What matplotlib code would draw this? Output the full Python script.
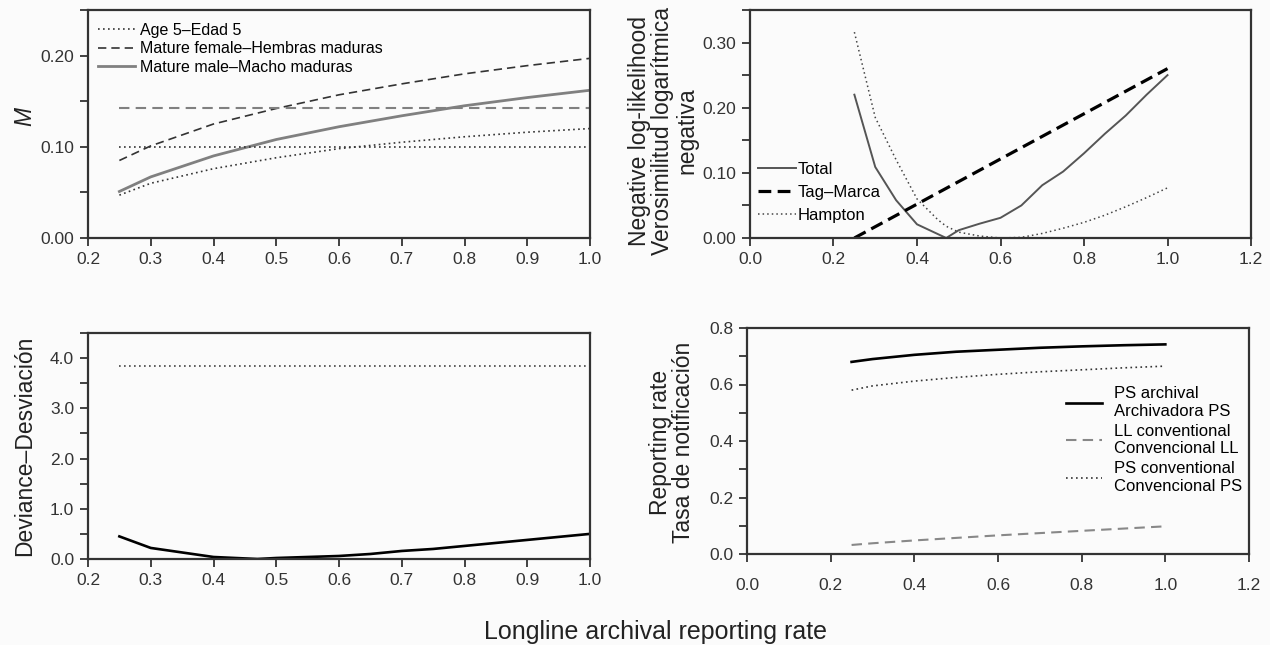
import matplotlib
matplotlib.use("Agg")
import matplotlib.pyplot as plt
from matplotlib.ticker import MultipleLocator, FormatStrFormatter

plt.rcParams['font.family'] = ['Liberation Sans', 'DejaVu Sans']

# --- data ---
x_rate = [0.25, 0.3, 0.4, 0.5, 0.6, 0.7, 0.8, 0.9, 1.0]
m_age5 = [0.047, 0.060, 0.076, 0.088, 0.098, 0.105, 0.111, 0.116, 0.120]
m_female = [0.085, 0.101, 0.125, 0.142, 0.157, 0.169, 0.180, 0.189, 0.197]
m_male = [0.051, 0.067, 0.090, 0.108, 0.122, 0.134, 0.145, 0.154, 0.162]
m_age5_ref = 0.10
m_female_ref = 0.143

x_nll = [0.25, 0.3, 0.35, 0.4, 0.45, 0.47, 0.5, 0.55, 0.6, 0.65, 0.7, 0.75, 0.8, 0.85, 0.9, 0.95, 1.0]
nll_total = [0.220, 0.109, 0.058, 0.021, 0.006, 0.0, 0.012, 0.022, 0.031, 0.050, 0.081, 0.102, 0.130, 0.160, 0.188, 0.220, 0.250]
nll_hampton = [0.316, 0.185, 0.120, 0.060, 0.028, 0.018, 0.009, 0.003, 0.0, 0.001, 0.007, 0.015, 0.024, 0.035, 0.048, 0.062, 0.077]
x_tag = [0.25, 1.0]
nll_tag = [0.0, 0.26]

x_dev = [0.25, 0.3, 0.4, 0.47, 0.5, 0.6, 0.65, 0.7, 0.75, 0.8, 0.9, 1.0]
deviance = [0.45, 0.22, 0.04, 0.0, 0.02, 0.06, 0.10, 0.16, 0.20, 0.26, 0.38, 0.50]
dev_crit = 3.84

rr_ps_arch = [0.680, 0.690, 0.705, 0.716, 0.723, 0.730, 0.735, 0.739, 0.742]
rr_ll_conv = [0.032, 0.038, 0.048, 0.057, 0.066, 0.074, 0.082, 0.090, 0.098]
rr_ps_conv = [0.580, 0.595, 0.612, 0.625, 0.636, 0.645, 0.652, 0.659, 0.665]

W, H = 1270, 645
BG = '#fbfbfb'
fig = plt.figure(figsize=(W / 100, H / 100), dpi=100, facecolor=BG)


def box(l, r, t, b):
    return [l / W, 1 - b / H, (r - l) / W, (b - t) / H]


def style(ax):
    ax.set_facecolor(BG)
    for s in ax.spines.values():
        s.set_linewidth(1.6)
        s.set_color('#333333')
    ax.tick_params(which='both', direction='out', length=6, width=1.3,
                   labelsize=12.5, colors='#333333', pad=4)


def ylab(x, y, text, **kw):
    fig.text(x / W, 1 - y / H, text, rotation=90, ha='center', va='center',
             fontsize=16.5, color='#222222', **kw)


# top-left: M
ax1 = fig.add_axes(box(88, 590, 10, 238))
style(ax1)
ax1.plot(x_rate, m_age5, color='#333333', ls=(0, (1, 2)), lw=1.2, label='Age 5\u2013Edad 5')
ax1.plot(x_rate, m_female, color='#333333', ls=(0, (5, 3)), lw=1.2, label='Mature female\u2013Hembras maduras')
ax1.plot(x_rate, m_male, color='#808080', ls='-', lw=2.0, label='Mature male\u2013Macho maduras')
ax1.plot([x_rate[0], x_rate[-1]], [m_age5_ref] * 2, color='#333333', ls=(0, (1, 2)), lw=1.2)
ax1.plot([x_rate[0], x_rate[-1]], [m_female_ref] * 2, color='#808080', ls=(0, (5, 3)), lw=1.5)
ax1.set_xlim(0.2, 1.0)
ax1.set_ylim(0, 0.25)
ax1.xaxis.set_major_locator(MultipleLocator(0.1))
ax1.xaxis.set_major_formatter(FormatStrFormatter('%.1f'))
ax1.yaxis.set_major_locator(MultipleLocator(0.1))
ax1.yaxis.set_minor_locator(MultipleLocator(0.05))
ax1.yaxis.set_major_formatter(FormatStrFormatter('%.2f'))
ax1.legend(loc='center left', bbox_to_anchor=(0.02, 0.829), frameon=False, fontsize=11.5,
           handlelength=2.3, handletextpad=0.35, borderpad=0, borderaxespad=0,
           labelspacing=0.22)
ylab(25, 117, 'M', style='italic')

# top-right: negative log-likelihood
ax2 = fig.add_axes(box(750, 1251, 10, 238))
style(ax2)
ax2.plot(x_nll, nll_total, color='#555555', ls='-', lw=1.4, label='Total')
ax2.plot(x_tag, nll_tag, color='black', ls=(0, (4, 2)), lw=2.3, label='Tag\u2013Marca')
ax2.plot(x_nll, nll_hampton, color='#444444', ls=(0, (1, 2)), lw=1.1, label='Hampton')
ax2.set_xlim(0.0, 1.2)
ax2.set_ylim(0, 0.35)
ax2.xaxis.set_major_locator(MultipleLocator(0.2))
ax2.xaxis.set_major_formatter(FormatStrFormatter('%.1f'))
ax2.yaxis.set_major_locator(MultipleLocator(0.1))
ax2.yaxis.set_minor_locator(MultipleLocator(0.05))
ax2.yaxis.set_major_formatter(FormatStrFormatter('%.2f'))
ax2.legend(loc='center left', bbox_to_anchor=(0.016, 0.20), frameon=False, fontsize=12,
           handlelength=2.3, handletextpad=0.1, borderpad=0, borderaxespad=0,
           labelspacing=0.5)
ylab(663, 131, 'Negative log-likelihood\nVerosimilitud logar\u00edtmica\nnegativa',
     linespacing=1.05)

# bottom-left: deviance
ax3 = fig.add_axes(box(88, 590, 333, 559))
style(ax3)
ax3.plot(x_dev, deviance, color='black', ls='-', lw=1.9)
ax3.plot([x_dev[0], x_dev[-1]], [dev_crit] * 2, color='#444444', ls=(0, (1, 2)), lw=1.2)
ax3.set_xlim(0.2, 1.0)
ax3.set_ylim(0, 4.5)
ax3.xaxis.set_major_locator(MultipleLocator(0.1))
ax3.xaxis.set_major_formatter(FormatStrFormatter('%.1f'))
ax3.yaxis.set_major_locator(MultipleLocator(1.0))
ax3.yaxis.set_minor_locator(MultipleLocator(0.5))
ax3.yaxis.set_major_formatter(FormatStrFormatter('%.1f'))
ylab(25, 446, 'Deviance\u2013Desviaci\u00f3n')

# bottom-right: reporting rate
ax4 = fig.add_axes(box(747, 1249, 328, 554))
style(ax4)
ax4.plot(x_rate, rr_ps_arch, color='black', ls='-', lw=1.9, label='PS archival\nArchivadora PS')
ax4.plot(x_rate, rr_ll_conv, color='#888888', ls=(0, (5, 3)), lw=1.5, label='LL conventional\nConvencional LL')
ax4.plot(x_rate, rr_ps_conv, color='#333333', ls=(0, (1, 2)), lw=1.2, label='PS conventional\nConvencional PS')
ax4.set_xlim(0.0, 1.2)
ax4.set_ylim(0, 0.8)
ax4.xaxis.set_major_locator(MultipleLocator(0.2))
ax4.xaxis.set_major_formatter(FormatStrFormatter('%.1f'))
ax4.yaxis.set_major_locator(MultipleLocator(0.2))
ax4.yaxis.set_minor_locator(MultipleLocator(0.1))
ax4.yaxis.set_major_formatter(FormatStrFormatter('%.1f'))
ax4.tick_params(axis='x', pad=11)
ax4.legend(loc='center left', bbox_to_anchor=(0.635, 0.504), frameon=False, fontsize=12,
           handlelength=2.2, handletextpad=0.7, borderpad=0, borderaxespad=0,
           labelspacing=0.3)
ylab(672, 442, 'Reporting rate\nTasa de notificaci\u00f3n', linespacing=1.0)

fig.text(655 / W, 1 - 632 / H, 'Longline archival reporting rate', fontsize=18,
         ha='center', va='center', color='#222222')

fig.savefig('out.png', dpi=100, facecolor=fig.get_facecolor())
